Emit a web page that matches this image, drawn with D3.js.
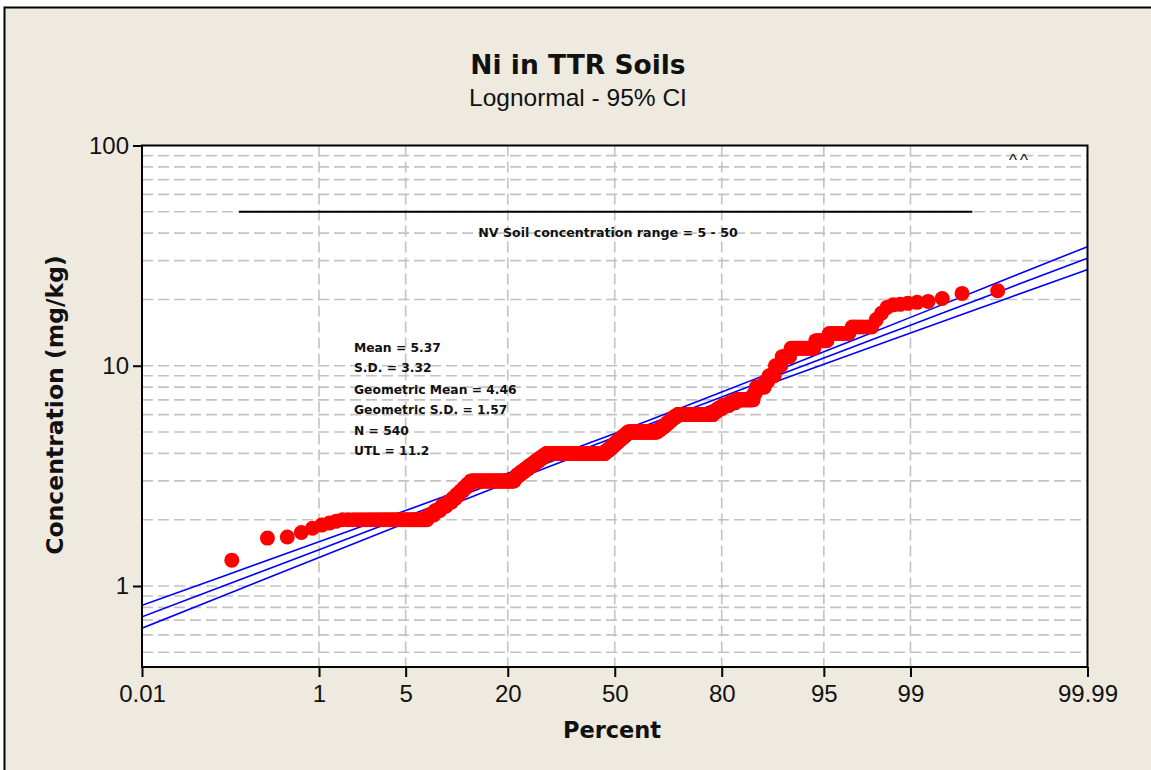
<!DOCTYPE html>
<html><head><meta charset="utf-8">
<script src="https://cdn.jsdelivr.net/npm/d3@7"></script>
<style>
html,body{margin:0;padding:0;background:#ffffff;}
svg{display:block;}
</style></head>
<body>
<svg id="chart" width="1151" height="770"></svg>
<script>
// ---------- DATA ----------
const title = "Ni in TTR Soils";
const subtitle = "Lognormal - 95% CI";
const xLabel = "Percent";
const yLabel = "Concentration (mg/kg)";

// sorted concentrations (mg/kg) and how many samples share each value (N = 540)
const concValues = [1.31,1.65,1.67,1.75,1.83,1.89,1.93,1.97,
  2.0, 2.1,2.2,2.3,2.4,2.5,2.6,2.7,2.8,2.9,
  3.0, 3.1,3.2,3.3,3.4,3.5,3.6,3.7,3.8,3.9,
  4.0, 4.1,4.2,4.3,4.4,4.5,4.6,4.7,4.8,4.9,
  5.0, 5.1,5.2,5.3,5.4,5.5,5.6,5.7,5.8,5.9,
  6.0, 6.2,6.4,6.6,6.8, 7.0, 7.5, 8.0, 8.5, 9.0, 10, 11, 12, 13, 14, 15,
  16.2,17.3,18.4,18.9,19.0,19.2,19.4,19.6,20.2,21.3,21.9];
const concCounts = [1,1,1,1,1,1,1,1,
  30, 4,4,4,4,3,3,3,3,3,
  47, 3,5,5,5,5,5,5,5,5,
  95, 5,5,4,4,4,4,4,4,4,
  49, 4,4,4,3,3,3,3,3,4,
  50, 5,6,8,7, 18, 2, 8, 3, 5, 5, 6, 14, 6, 8, 6,
  1,1,1,1,1,1,1,1,1,1,1];

// fitted lognormal line and 95% confidence bounds, read at these percents
const ciPercent = [0.01, 0.1, 1, 5, 10, 20, 30, 50, 70, 80, 90, 95, 99, 99.9, 99.99];
const fitValue  = [0.724, 0.995, 1.462, 2.061, 2.476, 3.09, 3.628, 4.73, 6.157, 7.22, 9.02, 10.84, 15.28, 22.45, 30.8];
const ciUpper   = [0.817, 1.102, 1.587, 2.199, 2.623, 3.25, 3.797, 4.93, 6.442, 7.59, 9.55, 11.57, 16.58, 24.87, 34.75];
const ciLower   = [0.643, 0.898, 1.347, 1.931, 2.338, 2.943, 3.467, 4.53, 5.884, 6.88, 8.52, 10.15, 14.08, 20.27, 27.35];

// axis ticks
const xTickValues = [0.01, 1, 5, 20, 50, 80, 95, 99, 99.99];
const xTickLabels = ["0.01", "1", "5", "20", "50", "80", "95", "99", "99.99"];
const xGridValues = [1, 5, 20, 50, 80, 95, 99];
const yTickValues = [1, 10, 100];
const yTickLabels = ["1", "10", "100"];
const yGridValues = [0.5,0.6,0.7,0.8,0.9, 1,2,3,4,5,6,7,8,9, 10,20,30,40,50,60,70,80,90];
const yDomain = [0.4287, 100];
const xDomain = [0.01, 99.99];

// annotations
const statLines = ["Mean = 5.37", "S.D. = 3.32", "Geometric Mean = 4.46",
                   "Geometric S.D. = 1.57", "N = 540", "UTL = 11.2"];
const nvLabel = "NV Soil concentration range = 5 - 50";
const nvLevel = 50;
const nvRange = [0.156, 99.755]; // percent extent of the reference line
const cornerMark = "^^";

// ---------- HELPERS ----------
function probit(p) { // Acklam inverse normal CDF
  const a=[-3.969683028665376e+01,2.209460984245205e+02,-2.759285104469687e+02,1.383577518672690e+02,-3.066479806614716e+01,2.506628277459239e+00];
  const b=[-5.447609879822406e+01,1.615858368580409e+02,-1.556989798598866e+02,6.680131188771972e+01,-1.328068155288572e+01];
  const c=[-7.784894002430293e-03,-3.223964580411365e-01,-2.400758277161838e+00,-2.549671010056080e+00,4.374664141464968e+00,2.938163982698783e+00];
  const d=[7.784695709041462e-03,3.224671290700398e-01,2.445134137142996e+00,3.754408661907416e+00];
  const pl=0.02425, ph=1-pl; let q,r;
  if (p<pl){q=Math.sqrt(-2*Math.log(p));return (((((c[0]*q+c[1])*q+c[2])*q+c[3])*q+c[4])*q+c[5])/((((d[0]*q+d[1])*q+d[2])*q+d[3])*q+1);}
  if (p<=ph){q=p-0.5;r=q*q;return (((((a[0]*r+a[1])*r+a[2])*r+a[3])*r+a[4])*r+a[5])*q/(((((b[0]*r+b[1])*r+b[2])*r+b[3])*r+b[4])*r+1);}
  q=Math.sqrt(-2*Math.log(1-p));return -(((((c[0]*q+c[1])*q+c[2])*q+c[3])*q+c[4])*q+c[5])/((((d[0]*q+d[1])*q+d[2])*q+d[3])*q+1);
}

// ---------- LAYOUT ----------
const W = 1151, H = 770;
const plot = {left: 142, right: 1087.5, top: 145.5, bottom: 667};
const svg = d3.select("#chart");

// frame
svg.append("rect").attr("x",0).attr("y",0).attr("width",W).attr("height",H).attr("fill","#ffffff");
svg.append("rect").attr("x",4.5).attr("y",7.5).attr("width",W+20).attr("height",H+20)
  .attr("fill","#eeeae0").attr("stroke","#000").attr("stroke-width",2);

// scales
const zScale = d3.scaleLinear().domain([probit(xDomain[0]/100), probit(xDomain[1]/100)]).range([plot.left, plot.right]);
function x(pct){ return zScale(probit(pct/100)); }
x.copy = () => x;
x.range = () => zScale.range();
x.domain = () => xDomain;
const y = d3.scaleLog().domain(yDomain).range([plot.bottom, plot.top]);

// plot background
svg.append("rect").attr("x",plot.left).attr("y",plot.top)
  .attr("width",plot.right-plot.left).attr("height",plot.bottom-plot.top).attr("fill","#ffffff");

const defs = svg.append("defs");
defs.append("clipPath").attr("id","clip").append("rect")
  .attr("x",plot.left).attr("y",plot.top).attr("width",plot.right-plot.left).attr("height",plot.bottom-plot.top);

// grid
const grid = svg.append("g").attr("stroke","#c3c3c3").attr("stroke-width",1.6).attr("stroke-dasharray","11,5");
grid.selectAll("line.h").data(yGridValues).join("line").attr("class","h")
  .attr("x1",plot.left).attr("x2",plot.right).attr("y1",d=>y(d)).attr("y2",d=>y(d));
grid.selectAll("line.v").data(xGridValues).join("line").attr("class","v")
  .attr("y1",plot.top).attr("y2",plot.bottom).attr("x1",d=>x(d)).attr("x2",d=>x(d));

// NV reference line + label
svg.append("line").attr("x1",x(nvRange[0])).attr("x2",x(nvRange[1]))
  .attr("y1",y(nvLevel)).attr("y2",y(nvLevel)).attr("stroke","#000").attr("stroke-width",2);
svg.append("text").attr("x",608).attr("y",236.5).attr("text-anchor","middle")
  .attr("font-family","DejaVu Sans").attr("font-weight","bold").attr("font-size",12.6)
  .attr("fill","#111").text(nvLabel);

// fit + CI lines
const ciRows = ciPercent.map((p,i)=>({p, fit: fitValue[i], lo: ciLower[i], hi: ciUpper[i]}));
const g = svg.append("g").attr("clip-path","url(#clip)");
["hi","fit","lo"].forEach(k=>{
  g.append("path").datum(ciRows)
    .attr("d", d3.line().x(d=>x(d.p)).y(d=>y(d[k])).curve(d3.curveMonotoneX))
    .attr("fill","none").attr("stroke","#0000ff").attr("stroke-width",1.6);
});

// points: expand counts, plot at median ranks
const sorted = [];
concValues.forEach((v,i)=>{ for(let k=0;k<concCounts[i];k++) sorted.push(v); });
const n = sorted.length;
const pts = sorted.map((v,i)=>({v, pct: 100*((i+1)-0.3)/(n+0.4)}));
g.append("g").selectAll("circle").data(pts).join("circle")
  .attr("cx",d=>x(d.pct)).attr("cy",d=>y(d.v)).attr("r",7.5).attr("fill","#ff0000");

// stats text
svg.append("g").selectAll("text").data(statLines).join("text")
  .attr("x",354).attr("y",(d,i)=>[351.5,372,394,414,435,455][i])
  .attr("font-family","DejaVu Sans").attr("font-weight","bold").attr("font-size",12.3)
  .attr("fill","#111").text(d=>d);

svg.append("text").attr("x",1020).attr("y",166).attr("text-anchor","middle")
  .attr("font-family","Liberation Sans").attr("font-size",17).attr("letter-spacing",3).attr("fill","#111").text(cornerMark);

// plot border
svg.append("rect").attr("x",plot.left).attr("y",plot.top)
  .attr("width",plot.right-plot.left).attr("height",plot.bottom-plot.top)
  .attr("fill","none").attr("stroke","#000").attr("stroke-width",2);

// axes
const xAxis = d3.axisBottom(x).tickValues(xTickValues).tickFormat((d,i)=>xTickLabels[i]).tickSize(10).tickSizeOuter(0).tickPadding(8);
const gx = svg.append("g").attr("transform",`translate(0,${plot.bottom})`).call(xAxis);
gx.select(".domain").remove();
gx.selectAll("line").attr("stroke","#000").attr("stroke-width",2);
gx.selectAll("text").attr("font-family","Liberation Sans").attr("font-size",24).attr("fill","#111").attr("dy","0.71em");

const yAxis = d3.axisLeft(y).tickValues(yTickValues).tickFormat((d,i)=>yTickLabels[i]).tickSize(9).tickSizeOuter(0).tickPadding(4);
const gy = svg.append("g").attr("transform",`translate(${plot.left},0)`).call(yAxis);
gy.select(".domain").remove();
gy.selectAll("line").attr("stroke","#000").attr("stroke-width",2);
gy.selectAll("text").attr("font-family","Liberation Sans").attr("font-size",24).attr("fill","#111");

// titles
svg.append("text").attr("x",578).attr("y",74).attr("text-anchor","middle")
  .attr("font-family","DejaVu Sans").attr("font-weight","bold").attr("font-size",26.5).attr("fill","#111").text(title);
svg.append("text").attr("x",578).attr("y",106).attr("text-anchor","middle")
  .attr("font-family","Liberation Sans").attr("font-size",24.5).attr("fill","#111").text(subtitle);
svg.append("text").attr("x",612).attr("y",738).attr("text-anchor","middle")
  .attr("font-family","DejaVu Sans").attr("font-weight","bold").attr("font-size",22.5).attr("fill","#111").text(xLabel);
svg.append("text").attr("transform","translate(63,405) rotate(-90)").attr("text-anchor","middle")
  .attr("font-family","DejaVu Sans").attr("font-weight","bold").attr("font-size",23.5).attr("fill","#111").text(yLabel);
</script>
</body></html>
